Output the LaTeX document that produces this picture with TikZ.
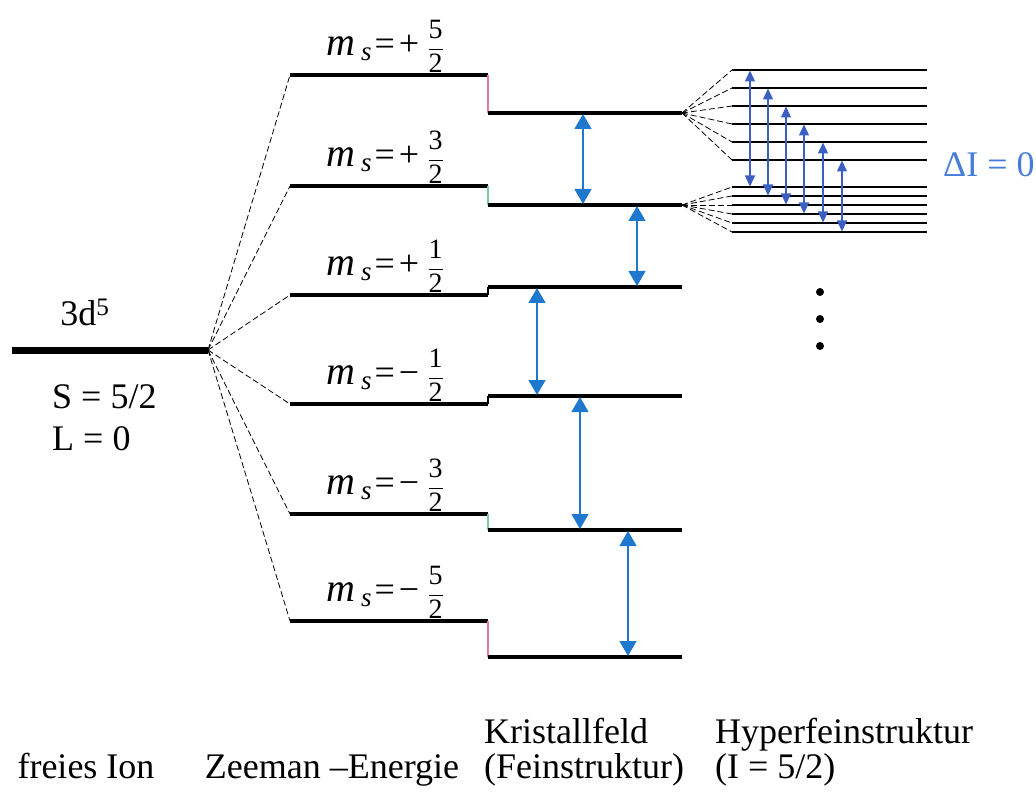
\documentclass[tikz,border=0pt]{standalone}
\usepackage{fontspec}
\setmainfont{Liberation Serif}
\usetikzlibrary{arrows.meta,calc}
\definecolor{trblue}{RGB}{30,120,205}
\definecolor{hfblue}{RGB}{60,95,195}
\definecolor{lablue}{RGB}{70,125,215}
\definecolor{stepred}{RGB}{230,120,170}
\definecolor{stepgreen}{RGB}{120,200,160}
% magnetic quantum number label: m_s = <sign> n/2
\newcommand{\msfrac}[1]{\fontsize{28}{28}\selectfont #1}
\newcommand{\mslabel}[2]{%
  {\fontsize{40}{40}\selectfont\itshape m}\hspace{6pt}\raisebox{-5pt}{\fontsize{27}{27}\selectfont\itshape s}%
  \hspace{3pt}=\hspace{4pt}#1\hspace{8pt}$\displaystyle\frac{\hbox{\msfrac{#2}}}{\hbox{\msfrac{2}}}$}
\begin{document}
\begin{tikzpicture}[x=1pt,y=-1pt,
  lab/.style={font=\fontsize{36}{40}\selectfont, inner sep=0pt},
  ion/.style={line width=7pt},
  lev/.style={line width=4.5pt},
  split/.style={dash pattern=on 6pt off 3pt, line width=0.8pt},
  hfs/.style={line width=1.4pt},
  stepline/.style={line width=1.2pt},
  trans/.style={trblue, line width=1.3pt, shorten <=1pt, shorten >=1pt,
    {Triangle[width=17pt,length=15pt]}-{Triangle[width=17pt,length=15pt]}},
  hftrans/.style={hfblue, line width=1.2pt, shorten <=0.5pt, shorten >=0.5pt,
    {Triangle[width=10pt,length=11pt]}-{Triangle[width=10pt,length=11pt]}}]
\useasboundingbox (0,0) rectangle (1036,794);

% free ion
\coordinate (ionL) at (12,350);
\coordinate (ionR) at (208,350);
\draw[ion] (ionL) -- (ionR);
\node[lab, anchor=base] (cfg) at (85,325) {3d\textsuperscript{5}};
\node[lab, anchor=base west] (spin) at (52,408) {S = 5/2};
\node[lab, anchor=base west] (orb) at (52,450) {L = 0};

% Zeeman levels and crystal-field levels
\foreach \i/\yz/\yc/\sc in {1/75/113/stepred, 2/186/205/stepgreen, 3/295/287/black,
                            4/404/396/black, 5/514/530/stepgreen, 6/621/657/stepred}{
  \coordinate (zL\i) at (290,\yz);
  \coordinate (zR\i) at (488,\yz);
  \coordinate (cL\i) at (488,\yc);
  \coordinate (cR\i) at (682,\yc);
  \draw[split] (ionR) -- (zL\i);
  \draw[lev] (zL\i) -- (zR\i);
  \draw[stepline, draw=\sc] (zR\i) -- (cL\i);
  \draw[lev] (cL\i) -- (cR\i);
}

% m_s labels
\foreach \i/\sg/\n in {1/+/5, 2/+/3, 3/+/1, 4/−/1, 5/−/3, 6/−/5}{
  \node[lab] (ms\i) at ($(zL\i)+(95,-29)$) {\mslabel{\sg}{\n}};
}

% fine-structure transitions
\draw[trans] ([xshift=95pt]cL1) -- ([xshift=95pt]cL2);
\draw[trans] ([xshift=149pt]cL2) -- ([xshift=149pt]cL3);
\draw[trans] ([xshift=49pt]cL3) -- ([xshift=49pt]cL4);
\draw[trans] ([xshift=92pt]cL4) -- ([xshift=92pt]cL5);
\draw[trans] ([xshift=140pt]cL5) -- ([xshift=140pt]cL6);

% hyperfine splitting
\foreach \k/\yu/\yl in {1/70/187, 2/88/196, 3/106/205, 4/124/214, 5/142/223, 6/160/232}{
  \coordinate (hU\k) at (732,\yu);
  \coordinate (hUe\k) at (927,\yu);
  \coordinate (hL\k) at (732,\yl);
  \coordinate (hLe\k) at (927,\yl);
  \draw[split] (cR1) -- (hU\k);
  \draw[split] (cR2) -- (hL\k);
  \draw[hfs] (hU\k) -- (hUe\k);
  \draw[hfs] (hL\k) -- (hLe\k);
}
\foreach \k/\dx in {1/18, 2/36, 3/54, 4/72, 5/91, 6/110}{
  \draw[hftrans] ([xshift=\dx pt]hU\k) -- ([xshift=\dx pt]hL\k);
}
\node[lab, text=lablue, anchor=west] (sel) at (943,165) {ΔI = 0};

% more levels follow
\foreach \k/\yy in {1/292, 2/319, 3/346}{
  \fill (820,\yy) circle (4pt) coordinate (dot\k);
}

% column captions
\node[lab, anchor=base] (capA) at (86,778) {freies Ion};
\node[lab, anchor=base] (capB) at (332,778) {Zeeman –Energie};
\node[lab, anchor=base] (capC1) at (566,743) {Kristallfeld};
\node[lab, anchor=base] (capC2) at (584,778) {(Feinstruktur)};
\node[lab, anchor=base west] (capD1) at (715,743) {Hyperfeinstruktur};
\node[lab, anchor=base west] (capD2) at (715,778) {(I = 5/2)};
\end{tikzpicture}
\end{document}
